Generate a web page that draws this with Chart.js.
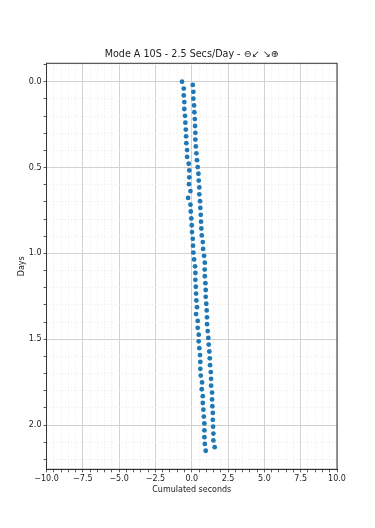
<!DOCTYPE html>
<html>
<head>
<meta charset="utf-8">
<script src="https://cdn.jsdelivr.net/npm/chart.js@4.4.1/dist/chart.umd.min.js"></script>
<style>
    html, body { margin: 0; padding: 0; background: #fff; }
    #wrap { width: 375px; height: 528px; }
</style>
</head>
<body>
<div id="wrap"><canvas id="chart" width="375" height="528"></canvas></div>
<script>
// Dados
const chartTitle = 'Mode A 10S - 2.5 Secs/Day - \u2296\u2199 \u2198\u2295';

const leftDays = [0, 0.040, 0.080, 0.119, 0.159, 0.199, 0.239, 0.279, 0.318, 0.358,
    0.398, 0.438, 0.478, 0.517, 0.557, 0.597, 0.637, 0.677, 0.716, 0.756,
    0.796, 0.836, 0.876, 0.915, 0.955, 0.995, 1.035, 1.075, 1.114, 1.154,
    1.194, 1.234, 1.274, 1.313, 1.353, 1.393, 1.433, 1.473, 1.512, 1.552,
    1.592, 1.632, 1.672, 1.711, 1.751, 1.791, 1.831, 1.871, 1.910, 1.950,
    1.990, 2.030, 2.070, 2.109, 2.149];
const leftSecs = [-0.67, -0.55, -0.55, -0.51, -0.51, -0.46, -0.44, -0.41, -0.39, -0.37,
    -0.32, -0.32, -0.21, -0.17, -0.17, -0.19, -0.09, -0.25, -0.09, -0.07,
    -0.03, 0.00, 0.02, 0.07, 0.09, 0.11, 0.16, 0.23, 0.25, 0.25,
    0.28, 0.30, 0.32, 0.36, 0.30, 0.41, 0.41, 0.48, 0.48, 0.52,
    0.57, 0.59, 0.59, 0.62, 0.71, 0.69, 0.76, 0.76, 0.80, 0.83,
    0.87, 0.87, 0.87, 0.90, 0.96];

const rightDays = [0.019, 0.059, 0.099, 0.138, 0.178, 0.218, 0.258, 0.298, 0.337, 0.377,
    0.417, 0.457, 0.497, 0.536, 0.576, 0.616, 0.656, 0.696, 0.735, 0.775,
    0.815, 0.855, 0.895, 0.934, 0.974, 1.014, 1.054, 1.094, 1.133, 1.173,
    1.213, 1.253, 1.293, 1.332, 1.372, 1.412, 1.452, 1.492, 1.531, 1.571,
    1.611, 1.651, 1.691, 1.730, 1.770, 1.810, 1.850, 1.890, 1.929, 1.969,
    2.009, 2.049, 2.089, 2.128];
const rightSecs = [0.07, 0.11, 0.11, 0.16, 0.18, 0.21, 0.23, 0.25, 0.25, 0.28,
    0.32, 0.36, 0.41, 0.46, 0.48, 0.52, 0.52, 0.57, 0.59, 0.62,
    0.64, 0.66, 0.69, 0.76, 0.78, 0.85, 0.90, 0.89, 0.90, 0.94,
    0.96, 0.96, 1.00, 1.03, 1.05, 1.05, 1.10, 1.14, 1.17, 1.21,
    1.24, 1.26, 1.31, 1.33, 1.33, 1.40, 1.40, 1.42, 1.45, 1.45,
    1.47, 1.49, 1.49, 1.58];

// Ticks
const xRange = [-10, 10];
const xMajorStep = 2.5;
const xMinorStep = 0.5;
const yRange = [-0.107, 2.257];
const yMajorStep = 0.5;
const yMinorStep = 0.1;

const pointColor = '#1f77b4';
const fontFamily = '"DejaVu Sans", sans-serif';

function isMajor(value, step) {
    const r = value / step;
    return Math.abs(r - Math.round(r)) < 1e-6;
}

function formatTick(value) {
    return value.toFixed(1).replace('-', '\u2212');
}

function toPoints(xs, ys) {
    return xs.map((x, i) => ({ x: x, y: ys[i] }));
}

// Moldura completa + título centrado sobre a área do gráfico (estilo matplotlib)
const framePlugin = {
    id: 'frame',
    afterDraw(chart) {
        const { ctx, chartArea: a } = chart;
        ctx.save();
        ctx.strokeStyle = '#333';
        ctx.lineWidth = 1;
        ctx.strokeRect(a.left, a.top, a.right - a.left, a.bottom - a.top);

        ctx.fillStyle = '#222';
        ctx.font = '9.6px ' + fontFamily;
        ctx.textAlign = 'center';
        ctx.textBaseline = 'middle';
        ctx.fillText(chartTitle, (a.left + a.right) / 2, a.top - 8.5);
        ctx.restore();
    }
};

function gridOptions(step) {
    return {
        color: ctx => ctx.tick && isMajor(ctx.tick.value, step) ? '#d2d2d2' : '#e6e6e6',
        lineWidth: ctx => ctx.tick && isMajor(ctx.tick.value, step) ? 1 : 0.8,
        tickColor: '#333',
        tickLength: 3,
        tickWidth: 0.8
    };
}

function borderOptions(step) {
    return {
        color: '#333',
        width: 1,
        dash: ctx => ctx.tick && !isMajor(ctx.tick.value, step) ? [1, 2] : []
    };
}

function initializeChart() {
    const canvas = document.getElementById('chart');

    new Chart(canvas, {
        type: 'scatter',
        data: {
            datasets: [{
                label: 'A',
                data: toPoints(leftSecs, leftDays),
                backgroundColor: pointColor,
                borderWidth: 0,
                pointRadius: 2.4
            }, {
                label: 'B',
                data: toPoints(rightSecs, rightDays),
                backgroundColor: pointColor,
                borderWidth: 0,
                pointRadius: 2.4
            }]
        },
        options: {
            responsive: false,
            animation: false,
            devicePixelRatio: 1,
            layout: { padding: { left: 0, right: 38, top: 63.3, bottom: 0 } },
            plugins: {
                legend: { display: false },
                tooltip: { enabled: false },
                title: { display: false }
            },
            scales: {
                x: {
                    type: 'linear',
                    min: xRange[0],
                    max: xRange[1],
                    grid: gridOptions(xMajorStep),
                    border: borderOptions(xMajorStep),
                    ticks: {
                        stepSize: xMinorStep,
                        autoSkip: false,
                        maxRotation: 0,
                        includeBounds: false,
                        padding: 2,
                        color: '#222',
                        font: { family: fontFamily, size: 8 },
                        callback: v => isMajor(v, xMajorStep) ? formatTick(v) : ''
                    },
                    title: {
                        display: true,
                        text: 'Cumulated seconds',
                        color: '#222',
                        font: { family: fontFamily, size: 8 },
                        padding: { top: 0, bottom: 33 }
                    },
                    afterFit: scale => { scale.height = 58.7; }
                },
                y: {
                    type: 'linear',
                    reverse: true,
                    min: yRange[0],
                    max: yRange[1],
                    grid: gridOptions(yMajorStep),
                    border: borderOptions(yMajorStep),
                    ticks: {
                        stepSize: yMinorStep,
                        autoSkip: false,
                        includeBounds: false,
                        padding: 2,
                        color: '#222',
                        font: { family: fontFamily, size: 8 },
                        callback: v => isMajor(v, yMajorStep) ? formatTick(v) : ''
                    },
                    title: {
                        display: true,
                        text: 'Days',
                        color: '#222',
                        font: { family: fontFamily, size: 8 },
                        padding: { top: 17, bottom: 0 }
                    },
                    afterFit: scale => { scale.width = 46.5; }
                }
            }
        },
        plugins: [framePlugin]
    });
}

document.addEventListener('DOMContentLoaded', initializeChart);
</script>
</body>
</html>
